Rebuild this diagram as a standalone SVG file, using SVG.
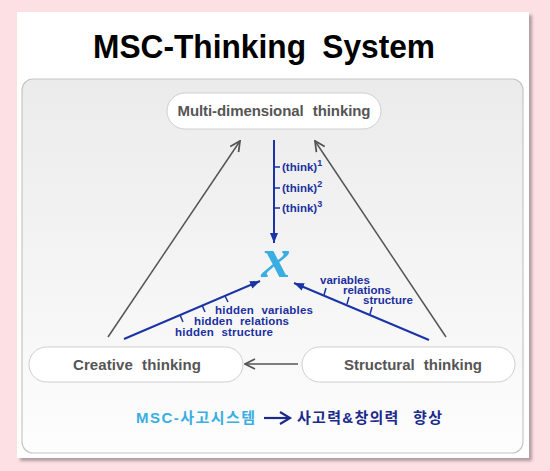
<svg xmlns="http://www.w3.org/2000/svg" width="550" height="471" viewBox="0 0 550 471">
<defs>
<linearGradient id="pg" x1="0" y1="0" x2="0" y2="1">
<stop offset="0" stop-color="#ebebeb"/>
<stop offset="1" stop-color="#fdfdfd"/>
</linearGradient>
<marker id="ga" viewBox="0 0 12 12" refX="11" refY="6" markerWidth="12" markerHeight="12" markerUnits="userSpaceOnUse" orient="auto">
<path d="M1,1 L11,6 L1,11" fill="none" stroke="#555" stroke-width="1.8"/>
</marker>
<marker id="ba" viewBox="0 0 10 8" refX="10" refY="4" markerWidth="10" markerHeight="8" markerUnits="userSpaceOnUse" orient="auto">
<path d="M0,0 L10,4 L0,8 Z" fill="#1a33a6"/>
</marker>
<filter id="sh" x="-5%" y="-5%" width="110%" height="110%">
<feDropShadow dx="3" dy="3" stdDeviation="1.5" flood-color="#000" flood-opacity="0.3"/>
</filter>
</defs>
<style>
.node rect{fill:#fff;stroke:#cfcfcf;stroke-width:1}
.nt{font-family:"Liberation Sans",Arial,sans-serif;font-weight:bold;font-size:15px;fill:#555;text-anchor:middle;word-spacing:5px}
.bt{font-family:"Liberation Sans",Arial,sans-serif;font-weight:bold;font-size:11.5px;fill:#1b30a0}
.ws{word-spacing:4px}
.gl{stroke:#555;stroke-width:1.5;fill:none}
.bl{stroke:#1a33a6;stroke-width:2;fill:none}
.tk{stroke:#1a33a6;stroke-width:1.5;fill:none}
</style>
<rect width="550" height="471" fill="#fde0e4"/>
<rect x="17" y="12" width="512" height="446" fill="#fff" filter="url(#sh)"/>
<rect x="22" y="79" width="501" height="374" rx="11" fill="url(#pg)" stroke="#c6c6c6" stroke-width="1.2"/>
<text x="264" y="58" font-family="'Liberation Sans',Arial,sans-serif" font-weight="bold" font-size="34" text-anchor="middle" word-spacing="8" textLength="342" lengthAdjust="spacingAndGlyphs" fill="#000">MSC-Thinking System</text>
<g id="connectors">
<line class="gl" x1="108" y1="337" x2="240" y2="141" marker-end="url(#ga)"/>
<line class="gl" x1="446" y1="337" x2="315" y2="141" marker-end="url(#ga)"/>
<line class="gl" x1="298" y1="364" x2="245" y2="364" marker-end="url(#ga)"/>
<line class="bl" x1="274" y1="140" x2="274" y2="243" marker-end="url(#ba)"/>
<path class="tk" d="M274,167 H280 M274,188 H280 M274,208 H280"/>
<line class="bl" x1="124" y1="339" x2="260" y2="281" marker-end="url(#ba)"/>
<path class="tk" d="M180,315 L183,322 M202,305 L205,312 M225,296 L228,302"/>
<line class="bl" x1="429" y1="340" x2="294" y2="283" marker-end="url(#ba)"/>
<path class="tk" d="M324,295 L326,288 M347,304 L349,297 M370,314 L372,307"/>
</g>
<g id="n-multi" class="node">
<rect x="167" y="93" width="214" height="36" rx="18"/>
<text class="nt" x="274" y="116" textLength="193" lengthAdjust="spacing">Multi-dimensional thinking</text>
</g>
<g id="n-creative" class="node">
<rect x="29" y="347" width="214" height="35" rx="17.5"/>
<text class="nt" x="137" y="370" textLength="128" lengthAdjust="spacing">Creative thinking</text>
</g>
<g id="n-structural" class="node">
<rect x="302" y="347" width="213" height="35" rx="17.5"/>
<text class="nt" x="413" y="370" textLength="138" lengthAdjust="spacing">Structural thinking</text>
</g>
<g id="n-x">
<text x="276" y="277" font-family="'Liberation Serif','DejaVu Serif',serif" font-style="italic" font-weight="bold" font-size="58" fill="#3aaee2" text-anchor="middle">x</text>
</g>
<g id="labels-think">
<text class="bt" x="282" y="171">(think)<tspan dy="-5" font-size="9">1</tspan></text>
<text class="bt" x="282" y="192">(think)<tspan dy="-5" font-size="9">2</tspan></text>
<text class="bt" x="282" y="212">(think)<tspan dy="-5" font-size="9">3</tspan></text>
</g>
<g id="labels-hidden">
<text class="bt ws" x="215" y="314" textLength="98" lengthAdjust="spacing">hidden variables</text>
<text class="bt ws" x="194" y="325" textLength="95" lengthAdjust="spacing">hidden relations</text>
<text class="bt ws" x="175" y="336" textLength="98" lengthAdjust="spacing">hidden structure</text>
</g>
<g id="labels-struct">
<text class="bt" x="320" y="284">variables</text>
<text class="bt" x="343" y="294">relations</text>
<text class="bt" x="363" y="304">structure</text>
</g>
<g id="footer">
<text x="136" y="423" font-family="'Liberation Sans','Noto Sans CJK KR',sans-serif" font-weight="bold" font-size="15" fill="#3aaee2" textLength="119" lengthAdjust="spacing">MSC-사고시스템</text>
<path d="M264,418 H288" stroke="#1b2a8c" stroke-width="2.2" fill="none"/>
<path d="M280,412 L290,418 L280,424" stroke="#1b2a8c" stroke-width="2.2" fill="none"/>
<text x="297" y="423" font-family="'Liberation Sans','Noto Sans CJK KR',sans-serif" font-weight="bold" font-size="15" fill="#1b2a8c" word-spacing="8" textLength="145" lengthAdjust="spacing">사고력&amp;창의력 향상</text>
</g>
</svg>
